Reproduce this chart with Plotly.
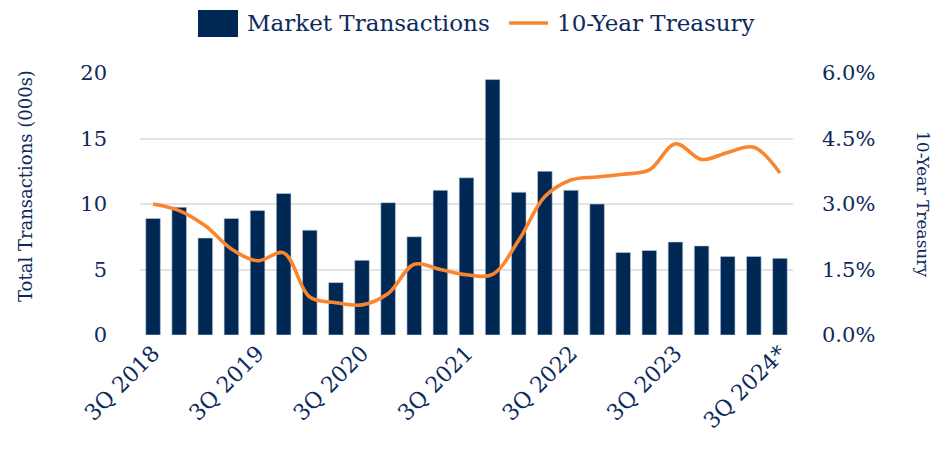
import plotly.graph_objects as go

# ---- data ----
quarters = ["3Q 2018", "4Q 2018", "1Q 2019", "2Q 2019", "3Q 2019", "4Q 2019",
            "1Q 2020", "2Q 2020", "3Q 2020", "4Q 2020", "1Q 2021", "2Q 2021",
            "3Q 2021", "4Q 2021", "1Q 2022", "2Q 2022", "3Q 2022", "4Q 2022",
            "1Q 2023", "2Q 2023", "3Q 2023", "4Q 2023", "1Q 2024", "2Q 2024",
            "3Q 2024*"]
transactions = [8.9, 9.75, 7.4, 8.9, 9.5, 10.8, 8.0, 4.0, 5.7, 10.1, 7.5, 11.05,
                12.0, 19.5, 10.9, 12.5, 11.05, 10.0, 6.3, 6.45, 7.1, 6.8,
                6.0, 6.0, 5.85]
treasury = [3.0, 2.85, 2.5, 1.97, 1.70, 1.88, 0.87, 0.74, 0.69, 0.95, 1.62,
            1.50, 1.38, 1.39, 2.17, 3.17, 3.55, 3.62, 3.68, 3.78, 4.38, 4.02,
            4.18, 4.30, 3.71]
tick_labels = ["3Q 2018", "3Q 2019", "3Q 2020", "3Q 2021", "3Q 2022",
               "3Q 2023", "3Q 2024*"]
left_ticks = [0, 5, 10, 15, 20]
right_ticks = [0, 1.5, 3.0, 4.5, 6.0]

NAVY = "#002855"
TXT = "#0D2A5C"
ORANGE = "#F9862F"
FONT = "DejaVu Serif"

idx = list(range(len(quarters)))
tick_idx = [quarters.index(t) for t in tick_labels]

fig = go.Figure()
fig.add_trace(go.Bar(x=idx, y=transactions, name="Market Transactions",
                     marker=dict(color=NAVY, line=dict(color="#C8D0DC", width=0.6)),
                     width=0.56, showlegend=False))
fig.add_trace(go.Scatter(x=idx, y=treasury, name="10-Year Treasury", yaxis="y2",
                         mode="lines", line=dict(color=ORANGE, width=3.6, shape="spline",
                                                 smoothing=1.0),
                         showlegend=False))

# page offset (body margin) and plot area geometry in page pixels
OFF = 8
W, H = 944, 451
PL, PR, PT, PB = 140, 793, 73, 335          # plot area in page pixels
L, T = PL - OFF, PT - OFF
R, B = W - (PR - OFF), H - (PB - OFF)
pw, ph = PR - PL, PB - PT

def px(x):
    return (x - PL) / pw

def py(y):
    return (PB - y) / ph

shapes = [
    dict(type="rect", xref="paper", yref="paper", x0=px(198), x1=px(238),
         y0=py(37), y1=py(10), fillcolor=NAVY, line=dict(width=0)),
    dict(type="line", xref="paper", yref="paper", x0=px(509), x1=px(548),
         y0=py(23), y1=py(23), line=dict(color=ORANGE, width=3.6)),
]
annotations = [
    dict(text="Market Transactions", xref="paper", yref="paper", x=px(245), y=py(23),
         xanchor="left", yanchor="middle", showarrow=False,
         font=dict(family=FONT, size=23, color=TXT)),
    dict(text="10-Year Treasury", xref="paper", yref="paper", x=px(555), y=py(23),
         xanchor="left", yanchor="middle", showarrow=False,
         font=dict(family=FONT, size=23, color=TXT)),
    dict(text="Total Transactions (000s)", xref="paper", yref="paper", x=px(25), y=py(186),
         xanchor="center", yanchor="middle", showarrow=False, textangle=-90,
         font=dict(family=FONT, size=18, color=TXT)),
    dict(text="10-Year Treasury", xref="paper", yref="paper", x=px(923), y=py(204),
         xanchor="center", yanchor="middle", showarrow=False, textangle=90,
         font=dict(family=FONT, size=17, color=TXT)),
]

fig.update_layout(
    width=W, height=H,
    margin=dict(l=L, r=R, t=T, b=B, autoexpand=False),
    paper_bgcolor="white", plot_bgcolor="white",
    font=dict(family=FONT, color=TXT),
    xaxis=dict(range=[-0.5, len(quarters) - 0.5], tickmode="array",
               tickvals=tick_idx, ticktext=tick_labels, tickangle=-45,
               showgrid=False, zeroline=False, showline=False, ticks="",
               tickfont=dict(family=FONT, size=22, color=TXT)),
    yaxis=dict(range=[0, 20], tickvals=left_ticks, showgrid=True,
               gridcolor="#E3E3E3", gridwidth=1.5, zeroline=False, showline=False,
               ticks="", ticklabelstandoff=32,
               tickfont=dict(family=FONT, size=21, color=TXT)),
    yaxis2=dict(range=[0, 6], tickvals=right_ticks, ticktext=[f"{v:.1f}%" for v in right_ticks],
                overlaying="y", side="right", showgrid=False, zeroline=False,
                showline=False, ticks="", ticklabelstandoff=28,
                tickfont=dict(family=FONT, size=21, color=TXT)),
    shapes=shapes, annotations=annotations,
)

fig.write_html("out.html")
